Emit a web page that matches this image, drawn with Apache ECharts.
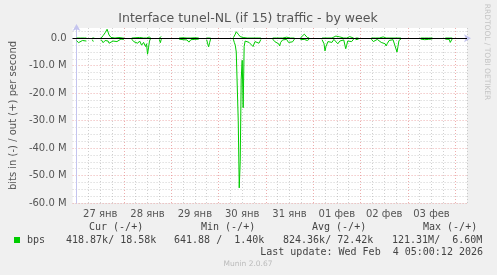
<!DOCTYPE html>
<html><head><meta charset="utf-8">
<script src="https://cdn.jsdelivr.net/npm/echarts@6/dist/echarts.min.js"></script>
<style>html,body{margin:0;padding:0;background:#f0f0f0}#c{width:497px;height:275px}</style>
</head><body><div id="c"></div>
<script>
// Day labels (centred at noon of each day); hours counted from 27 Jan 00:00
const dayLabels = ['27 янв','28 янв','29 янв','30 янв','31 янв','01 фев','02 фев','03 фев'];
// sample times (hours) – null values mark gaps (no data)
const hours = [
  0,1,2,3,4,5,6, 8,8.5,9,10,
  12.5,13.5,14.5,15.5,16,16.5,17,17.5,18.5,19.5,20.5,21.5,22.5,23.5,24,25,
  28,29,30,31,32,33,34,35,35.5,36,36.5,37,37.5,38,
  42,42.5,43,44,
  52,53,54,55,56,57,58,59,60,61,62,63,
  66,66.5,67,67.5,68,69,
  79.5,80,80.5,81,81.5,82,82.5,83,83.5,84,84.5,85,85.5,86.5,87.5,88.5,89.5,90.5,91.5,92.5,93.5,94.5,
  99.5,100.5,101.5,102.5,103,103.5,104.5,105.5,106.5,107.5,108.5,109.5,110.5,111.5,
  113.5,114.5,115.5,116,117,118,119,
  124.5,125.5,126,126.5,127.5,128.5,129.5,130.5,131.5,132.5,133.5,134.5,135.5,136.5,137,137.5,138.5,139.5,140.5,141,141.5,142,143,144,
  149.5,150.5,151.5,152.5,153.5,154.5,155.5,156.5,157,157.5,158.5,159.5,160.5,161.5,162.5,163,163.5,164.5,165,
  174.5,175.5,176.5,177.5,178.5,179.5,180.5,181,
  187,188,189,189.5,190,190.5
];
// inbound traffic, Mbit/s (drawn negative)
const inM = [
  -0.8,-1.6,-1.4,-0.8,-0.3,-1.0,null, -0.5,-1.2,-0.4,null,
  -0.5,-1.6,-0.8,-0.3,-1.0,-1.8,-2.4,-2.0,-1.0,-0.4,-1.2,-0.6,-0.3,-1.0,-0.4,null,
  -0.3,-1.2,-0.8,-1.8,-1.0,-2.5,-1.5,-3.0,-2.0,-5.8,-3.5,-1.0,-0.2,null,
  -0.4,-1.6,-0.3,null,
  -0.3,-0.8,-0.5,-1.2,-0.6,-1.4,-0.5,-1.0,-0.4,-0.9,-0.3,null,
  -0.5,-2.0,-3.1,-1.5,-0.3,null,
  -0.3,-1.5,-2.5,-5.0,-5.5,-30,-54.5,-45,-15,-8,-25.3,-3,-1.0,-0.5,-1.5,-0.8,-3.0,-1.2,-0.6,-1.8,-0.4,null,
  -0.3,-1.2,-0.8,-2.0,-2.8,-1.5,-0.6,-1.2,-0.4,-1.5,-0.8,-1.3,-0.3,null,
  -0.5,-1.0,-0.4,-0.6,-0.8,-0.3,null,
  -0.5,-2.0,-4.6,-3.0,-1.2,-0.6,-1.5,-0.4,-0.8,-2.0,-1.0,-1.5,-0.6,-3.8,-2.5,-1.0,-0.5,-1.2,-0.3,null,-0.5,-1.2,-0.3,null,
  -0.3,-1.2,-1.0,-0.4,-0.8,-1.5,-0.8,-2.0,-2.8,-2.0,-0.8,-1.5,-0.5,-1.2,-5.0,-3.0,-0.8,-0.3,null,
  -0.3,-0.8,-0.5,-1.0,-0.4,-0.8,-0.2,null,
  -0.3,-0.6,-0.4,-1.5,-0.8,-0.2
];
// outbound traffic, Mbit/s (drawn positive)
const outM = [
  0.1,0.1,0.1,0.2,0.1,0.1,null, 0.1,0.1,0.1,null,
  0.1,1.0,2.0,3.3,2.6,1.2,0.5,0.3,0.2,0.1,0.1,0.3,0.1,0.1,0.1,null,
  0.1,0.1,0.2,0.1,0.3,0.1,0.1,0.2,0.1,0.1,0.1,0.5,0.1,null,
  0.1,0.1,0.6,null,
  0.1,0.1,0.2,0.1,0.1,0.3,0.1,0.1,0.2,0.1,0.1,null,
  0.1,0.1,0.1,0.1,0.1,null,
  0.2,0.8,1.5,2.4,2.9,1.5,2.2,0.6,1.2,0.4,0.3,0.2,0.5,0.1,0.1,0.1,0.1,0.1,0.1,0.1,0.1,null,
  0.1,0.1,0.1,0.1,0.1,0.1,0.1,0.1,0.4,0.1,0.1,0.3,0.1,null,
  0.1,0.5,1.5,0.8,0.3,0.1,null,
  0.1,0.1,0.1,0.1,0.1,0.1,0.1,0.1,0.8,0.1,0.5,0.1,0.1,0.1,0.1,0.1,0.6,0.1,0.1,null,0.1,0.1,0.1,null,
  0.1,0.1,0.1,0.1,0.1,0.1,0.5,0.1,0.1,0.1,0.1,0.8,0.1,0.6,0.1,0.1,0.1,0.1,null,
  0.1,0.1,0.1,0.1,0.1,0.1,0.1,null,
  0.1,0.1,0.1,0.1,0.1,0.1
];
const legendHeaders = ['Cur (-/+)','Min (-/+)','Avg (-/+)','Max (-/+)'];
const legendValues = ['418.87k/ 18.58k','641.88 /  1.40k','824.36k/ 72.42k','121.31M/  6.60M'];
const lastUpdate = 'Last update: Wed Feb  4 05:00:12 2026';

const RED = 'rgba(225,120,120,0.6)';
const GRAY = 'rgba(170,170,170,0.55)';
const NONE = 'rgba(0,0,0,0)';
const xLineColors = [];
for (let i = 0; i < 24; i++) {
  const h = ((i - 2) % 24 + 24) % 24;
  xLineColors.push(h === 0 ? RED : (h % 6 === 0 ? GRAY : NONE));
}
const yLineColors = [RED, NONE, GRAY, NONE, GRAY, NONE, GRAY, NONE];

const toPairs = (vals) => hours.map((h, i) => [h, vals[i] == null ? '-' : vals[i] * 1e6]);

const chart = echarts.init(document.getElementById('c'), null, {renderer: 'canvas'});
const font = 'DejaVu Sans';
const mono = 'DejaVu Sans Mono';
const headerX = [89, 201, 312, 423];
const valueX = [66, 174, 283, 392];
const graphics = [
  {type: 'text', x: 248, y: 19, style: {text: 'Interface tunel-NL (if 15) traffic - by week', fill: '#555', font: '12.5px ' + font, align: 'center', verticalAlign: 'middle'}},
  {type: 'text', x: 487, y: 52, rotation: -Math.PI / 2, style: {text: 'RRDTOOL / TOBI OETIKER', fill: '#c4c4c4', font: '7.5px ' + font, align: 'center', verticalAlign: 'middle'}},
  {type: 'rect', shape: {x: 14, y: 237, width: 6, height: 6}, style: {fill: '#00cc00'}},
  {type: 'text', x: 27, y: 240, style: {text: 'bps', fill: '#444', font: '10px ' + mono, align: 'left', verticalAlign: 'middle'}},
  {type: 'text', x: 483, y: 252, style: {text: lastUpdate, fill: '#444', font: '10px ' + mono, align: 'right', verticalAlign: 'middle'}},
  {type: 'text', x: 248, y: 264, style: {text: 'Munin 2.0.67', fill: '#bbb', font: '7.5px ' + font, align: 'center', verticalAlign: 'middle'}}
];
legendHeaders.forEach((t, i) => graphics.push({type: 'text', x: headerX[i], y: 227, style: {text: t, fill: '#444', font: '10px ' + mono, align: 'left', verticalAlign: 'middle'}}));
legendValues.forEach((t, i) => graphics.push({type: 'text', x: valueX[i], y: 240, style: {text: t, fill: '#444', font: '10px ' + mono, align: 'left', verticalAlign: 'middle'}}));

chart.setOption({
  animation: false,
  backgroundColor: '#f0f0f0',
  textStyle: {fontFamily: font},
  grid: {left: 67, right: 30, top: 28, bottom: 72, show: true, backgroundColor: '#ffffff', borderWidth: 0, containLabel: false},
  xAxis: {
    type: 'value', min: -2, max: 198, interval: 1,
    axisLine: {show: true, lineStyle: {color: '#c4c4ee', width: 1}, symbol: ['none', 'arrow'], symbolSize: [6, 7], symbolOffset: [0, 4]},
    axisTick: {show: false},
    axisLabel: {
      color: '#555', fontSize: 10, fontFamily: font, margin: 6, showMinLabel: true, showMaxLabel: true,
      formatter: (v) => { if ((v - 12) % 24 === 0) { const d = (v - 12) / 24; return dayLabels[d] || ''; } return ''; }
    },
    splitLine: {show: true, lineStyle: {color: xLineColors, width: 1, type: [1, 2]}}
  },
  yAxis: {
    type: 'value', min: -60e6, max: 3.75e6, interval: 1.25e6,
    name: 'bits in (-) / out (+) per second', nameLocation: 'middle', nameRotate: 90, nameGap: 52,
    nameTextStyle: {color: '#555', fontSize: 10, fontFamily: font},
    axisLine: {show: true, lineStyle: {color: '#c4c4ee', width: 1}, symbol: ['none', 'arrow'], symbolSize: [6, 7], symbolOffset: [0, 4]},
    axisTick: {show: false},
    axisLabel: {
      color: '#555', fontSize: 10, fontFamily: font, margin: 6,
      formatter: (v) => { const m = Math.round(v / 1e5) / 10; if (m % 10 !== 0) return ''; return m === 0 ? '0.0' : m.toFixed(1) + ' M'; }
    },
    splitLine: {show: true, lineStyle: {color: yLineColors, width: 1, type: [1, 2]}}
  },
  graphic: graphics,
  series: [
    {type: 'line', name: 'zero', data: [], z: 1, silent: true,
     markLine: {silent: true, symbol: ['none', 'none'], label: {show: false}, lineStyle: {color: '#000', width: 1.2, type: 'solid'}, data: [{yAxis: 0}]}},
    {type: 'line', name: 'bps in', data: toPairs(inM), showSymbol: false, z: 3, connectNulls: false,
     lineStyle: {color: '#00cc00', width: 1}, itemStyle: {color: '#00cc00'}},
    {type: 'line', name: 'bps out', data: toPairs(outM), showSymbol: false, z: 3, connectNulls: false,
     lineStyle: {color: '#00cc00', width: 1}, itemStyle: {color: '#00cc00'}}
  ]
});
</script></body></html>
